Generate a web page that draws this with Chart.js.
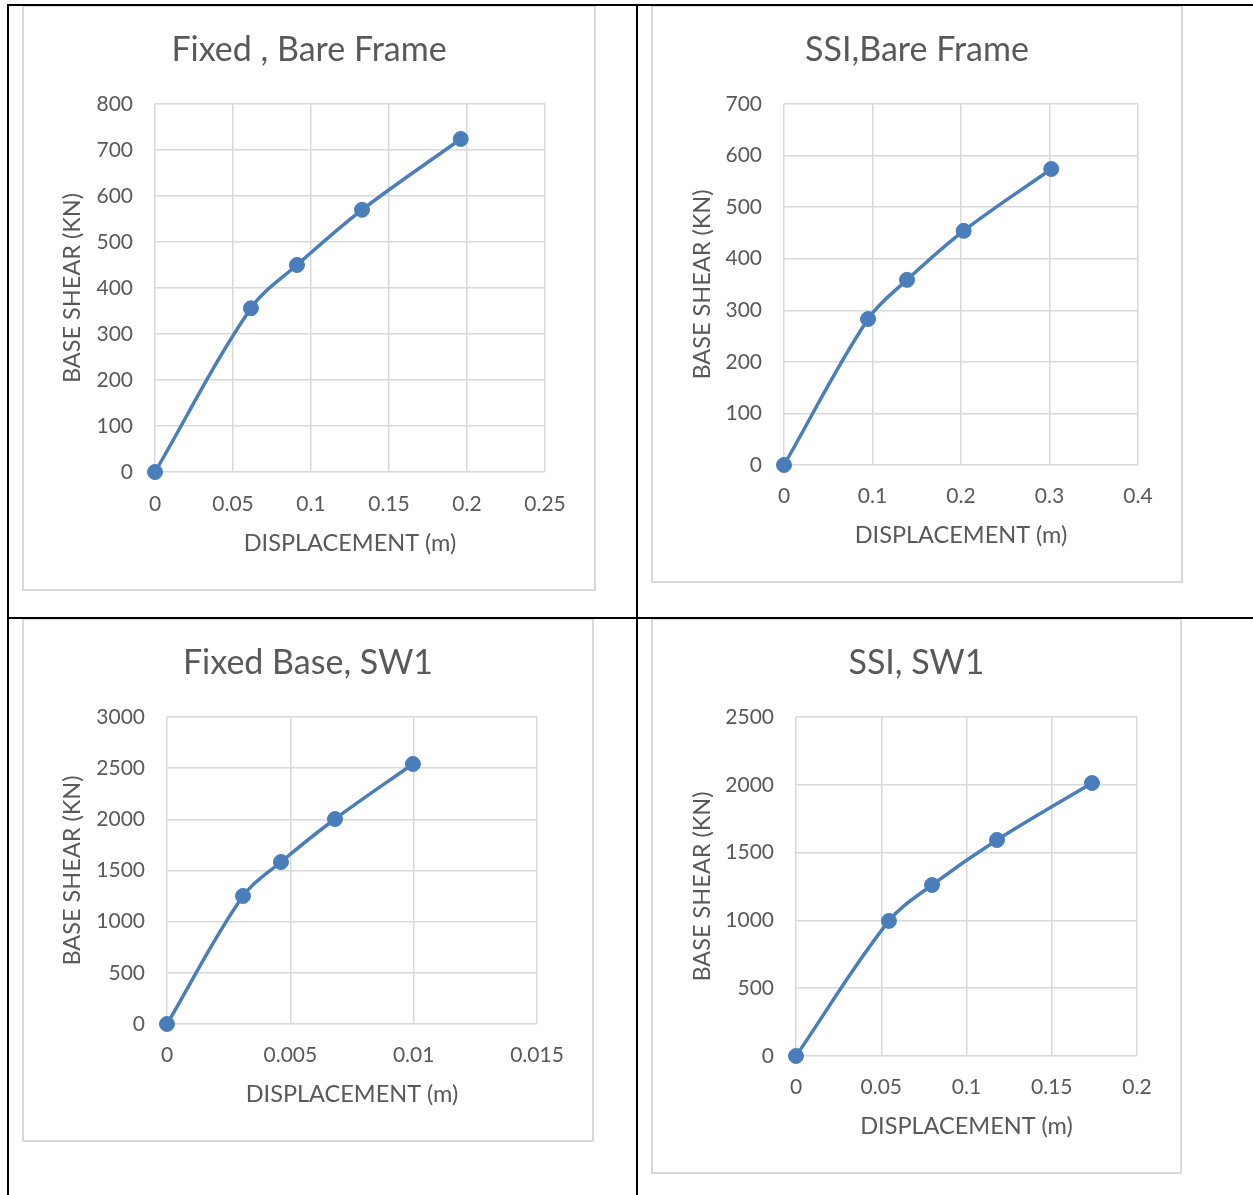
<!DOCTYPE html>
<html>
<head>
<meta charset="utf-8">
<title>Pushover curves</title>
<script src="https://cdn.jsdelivr.net/npm/chart.js@4.4.1/dist/chart.umd.min.js"></script>
<style>
  html, body { margin: 0; padding: 0; background: #ffffff; }
  body { position: relative; width: 1253px; height: 1195px; overflow: hidden; }
  .box { position: absolute; box-sizing: border-box; border: 2px solid #d9d9d9; background: #ffffff; }
  .box canvas { position: absolute; left: 0; top: 0; }
  .rule { position: absolute; background: #000000; z-index: 5; }
</style>
</head>
<body>

<!-- table rules -->
<div class="rule" style="left:7px; top:4px; width:1246px; height:2px;"></div>
<div class="rule" style="left:7px; top:4px; width:2px; height:1191px;"></div>
<div class="rule" style="left:636px; top:4px; width:2px; height:1191px;"></div>
<div class="rule" style="left:7px; top:617px; width:1246px; height:2px;"></div>

<div class="box" id="box1"><canvas id="c1"></canvas></div>
<div class="box" id="box2"><canvas id="c2"></canvas></div>
<div class="box" id="box3"><canvas id="c3"></canvas></div>
<div class="box" id="box4"><canvas id="c4"></canvas></div>

<script>
// ---- data: displacement (m) vs base shear (kN) ----
const fixedBareDisp  = [0, 0.0615, 0.091, 0.1327, 0.196];
const fixedBareShear = [0, 356, 450, 570, 724];

const ssiBareDisp    = [0, 0.095, 0.139, 0.203, 0.302];
const ssiBareShear   = [0, 283, 359, 454, 574];

const fixedSw1Disp   = [0, 0.00308, 0.00462, 0.00681, 0.00997];
const fixedSw1Shear  = [0, 1251, 1583, 2003, 2541];

const ssiSw1Disp     = [0, 0.0545, 0.0798, 0.1179, 0.1736];
const ssiSw1Shear    = [0, 996, 1261, 1593, 2013];

// ---- tick labels ----
const fixedBareXTicks = ['0', '0.05', '0.1', '0.15', '0.2', '0.25'];
const fixedBareYTicks = ['0', '100', '200', '300', '400', '500', '600', '700', '800'];
const ssiBareXTicks   = ['0', '0.1', '0.2', '0.3', '0.4'];
const ssiBareYTicks   = ['0', '100', '200', '300', '400', '500', '600', '700'];
const fixedSw1XTicks  = ['0', '0.005', '0.01', '0.015'];
const fixedSw1YTicks  = ['0', '500', '1000', '1500', '2000', '2500', '3000'];
const ssiSw1XTicks    = ['0', '0.05', '0.1', '0.15', '0.2'];
const ssiSw1YTicks    = ['0', '500', '1000', '1500', '2000', '2500'];

// ---- text ----
const titles = ['Fixed , Bare Frame', 'SSI,Bare Frame', 'Fixed Base, SW1', 'SSI, SW1'];
const xAxisTitle = 'DISPLACEMENT (m)';
const yAxisTitle = 'BASE SHEAR (KN)';

// ---- styling ----
const FONT = 'Lato, "Open Sans", sans-serif';
const TEXT = '#595959';
const GRID = '#d9d9d9';
const BLUE = '#4a7ebb';
const TITLE_SIZE = 34, AXIS_TITLE_SIZE = 23.5, TICK_SIZE = 21, LH = 1.2;

// page placement of each chart frame and of its plotting area
const layouts = [
  { box: [22, 5, 596, 591],    plot: [155, 104, 545, 472],  titleY: 50,  xTickY: 504,  xTitleY: 543,  yTitleX: 72 },
  { box: [651, 5, 1183, 583],  plot: [784, 104, 1138, 465], titleY: 50,  xTickY: 496,  xTitleY: 535,  yTitleX: 702 },
  { box: [22, 618, 594, 1142], plot: [167, 717, 537, 1024], titleY: 663, xTickY: 1055, xTitleY: 1094, yTitleX: 72 },
  { box: [651, 618, 1182, 1174], plot: [796, 717, 1137, 1056], titleY: 663, xTickY: 1087, xTitleY: 1126, yTitleX: 702 }
];

function fixedTicks(labels) {
  return function (scale) {
    scale.ticks = labels.map(l => ({ value: parseFloat(l) }));
  };
}

function drawChart(idx, xs, ys, xTicks, yTicks) {
  const L = layouts[idx];
  const boxEl = document.getElementById('box' + (idx + 1));
  boxEl.style.left = L.box[0] + 'px';
  boxEl.style.top = L.box[1] + 'px';
  boxEl.style.width = (L.box[2] - L.box[0]) + 'px';
  boxEl.style.height = (L.box[3] - L.box[1]) + 'px';

  const cx = L.box[0] + 2, cy = L.box[1] + 2;
  const cw = L.box[2] - L.box[0] - 4, ch = L.box[3] - L.box[1] - 4;
  const canvas = document.getElementById('c' + (idx + 1));
  canvas.width = cw; canvas.height = ch;
  canvas.style.width = cw + 'px'; canvas.style.height = ch + 'px';

  const [pl, pt, pr, pb] = L.plot;
  const titleLH = TITLE_SIZE * LH;
  const titlePadTop = L.titleY - cy - titleLH / 2;
  const titlePadBottom = (pt - cy) - titleLH - titlePadTop;
  const axisLH = AXIS_TITLE_SIZE * LH;
  const tickLH = TICK_SIZE * LH;
  const rightGap = (cx + cw) - pr;

  const points = xs.map((x, i) => ({ x: x, y: ys[i] }));

  new Chart(canvas, {
    type: 'scatter',
    data: {
      datasets: [{
        data: points,
        showLine: true,
        borderColor: BLUE,
        backgroundColor: BLUE,
        borderWidth: 3.5,
        tension: 0.35,
        pointRadius: 7.5,
        pointBorderWidth: 1,
        pointBorderColor: BLUE,
        pointBackgroundColor: BLUE,
        clip: false
      }]
    },
    options: {
      responsive: false,
      animation: false,
      devicePixelRatio: 1,
      layout: { padding: 0 },
      plugins: {
        legend: { display: false },
        tooltip: { enabled: false },
        title: {
          display: true,
          text: titles[idx],
          color: TEXT,
          font: { family: FONT, size: TITLE_SIZE, weight: 'normal', lineHeight: LH },
          padding: { top: titlePadTop, bottom: titlePadBottom }
        }
      },
      scales: {
        x: {
          type: 'linear',
          min: parseFloat(xTicks[0]),
          max: parseFloat(xTicks[xTicks.length - 1]),
          afterBuildTicks: fixedTicks(xTicks),
          afterFit: s => { s.height = (cy + ch) - pb; s.paddingRight = rightGap; },
          grid: { color: GRID, lineWidth: 1.5, drawTicks: false },
          border: { display: false },
          ticks: {
            color: TEXT,
            padding: L.xTickY - pb - tickLH / 2,
            maxRotation: 0,
            font: { family: FONT, size: TICK_SIZE, lineHeight: LH },
            callback: (v, i) => xTicks[i]
          },
          title: {
            display: true,
            text: xAxisTitle,
            color: TEXT,
            font: { family: FONT, size: AXIS_TITLE_SIZE, lineHeight: LH },
            padding: { top: 0, bottom: (cy + ch) - L.xTitleY - axisLH / 2 }
          }
        },
        y: {
          type: 'linear',
          min: parseFloat(yTicks[0]),
          max: parseFloat(yTicks[yTicks.length - 1]),
          afterBuildTicks: fixedTicks(yTicks),
          afterFit: s => { s.width = pl - cx; },
          grid: { color: GRID, lineWidth: 1.5, drawTicks: false },
          border: { display: false },
          ticks: {
            color: TEXT,
            padding: 22,
            font: { family: FONT, size: TICK_SIZE, lineHeight: LH },
            callback: (v, i) => yTicks[i]
          },
          title: {
            display: true,
            text: yAxisTitle,
            color: TEXT,
            font: { family: FONT, size: AXIS_TITLE_SIZE, lineHeight: LH },
            padding: { top: L.yTitleX - cx - axisLH / 2, bottom: 0 }
          }
        }
      }
    }
  });
}

drawChart(0, fixedBareDisp, fixedBareShear, fixedBareXTicks, fixedBareYTicks);
drawChart(1, ssiBareDisp, ssiBareShear, ssiBareXTicks, ssiBareYTicks);
drawChart(2, fixedSw1Disp, fixedSw1Shear, fixedSw1XTicks, fixedSw1YTicks);
drawChart(3, ssiSw1Disp, ssiSw1Shear, ssiSw1XTicks, ssiSw1YTicks);
</script>
</body>
</html>
